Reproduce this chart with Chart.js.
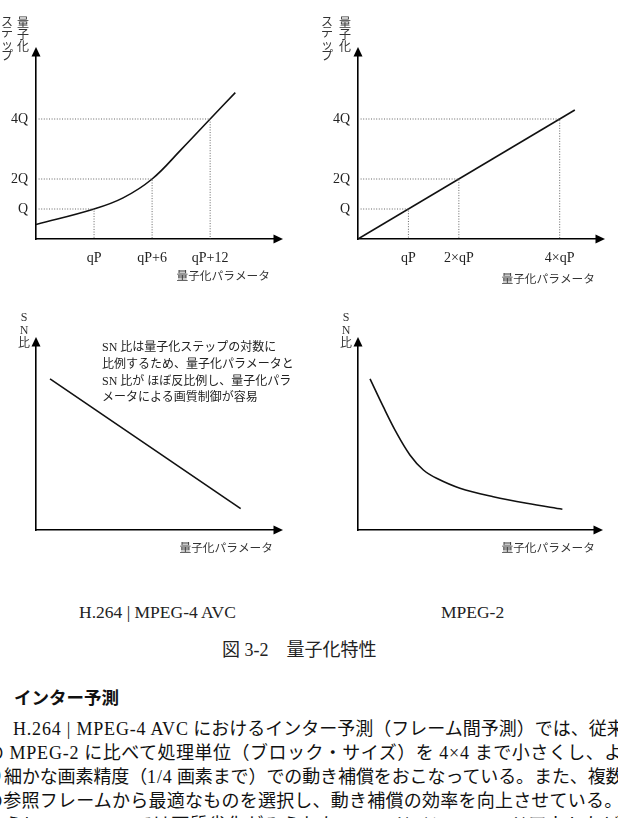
<!DOCTYPE html>
<html><head><meta charset="utf-8">
<script src="https://cdn.jsdelivr.net/npm/chart.js@4.4.1/dist/chart.umd.min.js"></script>
<style>
html,body{margin:0;padding:0;background:#fff;}
#page{position:relative;width:618px;height:818px;overflow:hidden;background:#fff;color:#111;}
.cv{position:absolute;}
.t{position:absolute;white-space:nowrap;font-family:"Liberation Serif","Noto Sans CJK JP",serif;}
.e{letter-spacing:0.8px;}
</style></head><body><div id="page">
<canvas id="c1" class="cv" width="305" height="300" style="left:0;top:0"></canvas>
<canvas id="c2" class="cv" width="308" height="300" style="left:310px;top:0"></canvas>
<canvas id="c3" class="cv" width="305" height="270" style="left:0;top:300px"></canvas>
<canvas id="c4" class="cv" width="308" height="270" style="left:310px;top:300px"></canvas>

<div class="t" style="left:102px;top:339px;font-size:12px;line-height:16.8px;color:#222;">SN 比は量子化ステップの対数に<br>比例するため、量子化パラメータと<br>SN 比が ほぼ反比例し、量子化パラ<br>メータによる画質制御が容易</div>

<div class="t" style="left:79px;top:602px;font-size:17.5px;line-height:20px;color:#222;">H.264 | MPEG-4 AVC</div>
<div class="t" style="left:441px;top:602px;font-size:17.5px;line-height:20px;color:#222;">MPEG-2</div>
<div class="t" style="left:222px;top:639px;font-size:18px;line-height:22px;color:#222;">図 3-2　量子化特性</div>
<div class="t" style="left:14px;top:685px;font-size:17.5px;line-height:24px;font-weight:bold;font-family:'Noto Sans CJK JP',sans-serif;color:#111;">インター予測</div>
<div class="t" style="left:13px;top:717px;font-size:18px;line-height:24px;letter-spacing:0px;"><span class="e">H.264 | MPEG-4 AVC</span> におけるインター予測（フレーム間予測）では、従来の</div>
<div class="t" style="left:-14px;top:741px;font-size:18px;line-height:24px;letter-spacing:0.5px;">の <span class="e">MPEG-2</span> に比べて処理単位（ブロック・サイズ）を <span class="e">4×4</span> まで小さくし、より</div>
<div class="t" style="left:-14px;top:765px;font-size:18px;line-height:24px;letter-spacing:-0.1px;">り細かな画素精度（<span class="e">1/4</span> 画素まで）での動き補償をおこなっている。また、複数の</div>
<div class="t" style="left:-15px;top:789px;font-size:18px;line-height:24px;letter-spacing:0.23px;">の参照フレームから最適なものを選択し、動き補償の効率を向上させている。</div>
<div class="t" style="left:-14px;top:813px;font-size:18px;line-height:24px;letter-spacing:0.5px;">さらに、<span class="e">MPEG-2</span> では画質劣化がみられたフェードイン/フェードアウトなど</div>
</div>
<script>
// ---- Data ----
// Chart 1: H.264 | MPEG-4 AVC, quantization step vs parameter
const h264ParamX = [0, 6, 9, 12, 15, 18, 20.6];
const h264StepY  = [0.48, 1.0, 1.37, 2.0, 2.98, 4.0, 4.88];
const h264TickValues = [6, 12, 18];
const h264TickLabels = ['qP', 'qP+6', 'qP+12'];
// Shared step ticks
const stepTickValues = [1, 2, 4];
const stepTickLabels = ['Q', '2Q', '4Q'];
// Chart 2: MPEG-2, quantization step vs parameter
const mpeg2ParamX = [0, 4.3];
const mpeg2StepY  = [0, 4.3];
const mpeg2TickValues = [1, 2, 4];
const mpeg2TickLabels = ['qP', '2×qP', '4×qP'];
// Chart 3: H.264 SN ratio vs parameter
const h264SnX = [0.59, 8.6];
const h264SnY = [8.21, 1.16];
// Chart 4: MPEG-2 SN ratio vs parameter
const mpeg2SnX = [0.51, 1.07, 1.64, 2.2, 2.77, 3.33, 4.32, 5.73, 7.15, 8.66];
const mpeg2SnY = [8.21, 6.7, 5.26, 4.08, 3.26, 2.81, 2.27, 1.81, 1.45, 1.13];

const xTitleText = '量子化パラメータ';
const stepTitleCols = ['量子化', 'ステップ'];
const snTitle = 'SN比';

// ---- Helpers ----
const zip = (xs, ys) => xs.map((x, i) => ({x, y: ys[i]}));

const decor = {
  id: 'decor',
  afterDraw(chart, args, o) {
    const {ctx, chartArea: a} = chart;
    ctx.save();
    ctx.fillStyle = '#000';
    ctx.beginPath();
    ctx.moveTo(a.right + 9, a.bottom);
    ctx.lineTo(a.right - 0.5, a.bottom - 4.5);
    ctx.lineTo(a.right - 0.5, a.bottom + 4.5);
    ctx.closePath(); ctx.fill();
    ctx.beginPath();
    ctx.moveTo(a.left, a.top - 9);
    ctx.lineTo(a.left - 4.5, a.top + 0.5);
    ctx.lineTo(a.left + 4.5, a.top + 0.5);
    ctx.closePath(); ctx.fill();
    ctx.fillStyle = '#333';
    ctx.font = "11.7px 'Noto Sans CJK JP'";
    ctx.textAlign = 'right'; ctx.textBaseline = 'middle';
    ctx.fillText(o.xTitle, a.right + o.xDx, a.bottom + o.xDy);
    ctx.textAlign = 'center';
    (o.yCols || []).forEach(c => {
      ctx.font = c.font;
      [...c.text].forEach((ch, i) => ctx.fillText(ch, a.left + c.dx, a.top + c.dy + i * c.step));
    });
    ctx.restore();
  }
};

function makeChart(id, o) {
  const datasets = [];
  (o.guides || []).forEach(g => datasets.push({
    data: [{x: 0, y: g.y}, {x: g.x, y: g.y}, {x: g.x, y: 0}],
    borderColor: '#666', borderWidth: 1, borderDash: [1, 1.6], pointRadius: 0, tension: 0
  }));
  datasets.push({
    data: o.data, borderColor: '#111', borderWidth: 1.6, pointRadius: 0,
    tension: o.tension || 0
  });
  const tickFont = {family: 'Liberation Serif', size: 14};
  return new Chart(document.getElementById(id), {
    type: 'line',
    data: {datasets},
    plugins: [decor],
    options: {
      responsive: false, animation: false, devicePixelRatio: 1,
      layout: {padding: {left: 0, bottom: 0, top: o.padTop, right: o.padRight}},
      plugins: {legend: {display: false}, tooltip: {enabled: false}, decor: o.decor},
      scales: {
        x: {
          type: 'linear', min: 0, max: o.xMax,
          grid: {display: false, drawTicks: false},
          border: {display: true, color: '#000', width: 1.6},
          ticks: {display: !!o.xTicks, font: tickFont, color: '#222', padding: 11, maxRotation: 0, autoSkip: false,
                  callback: (v, i) => o.xTicks ? o.xTicks.labels[i] : ''},
          afterBuildTicks: s => { if (o.xTicks) s.ticks = o.xTicks.values.map(v => ({value: v})); },
          afterFit: s => { s.height = o.xAxisH; }
        },
        y: {
          type: 'linear', min: 0, max: o.yMax,
          grid: {display: false, drawTicks: false},
          border: {display: true, color: '#000', width: 1.6},
          ticks: {display: !!o.yTicks, font: tickFont, color: '#222', padding: 8, autoSkip: false,
                  callback: (v, i) => o.yTicks ? o.yTicks.labels[i] : ''},
          afterBuildTicks: s => { if (o.yTicks) s.ticks = o.yTicks.values.map(v => ({value: v})); },
          afterFit: s => { s.width = o.yAxisW; }
        }
      }
    }
  });
}

const stepCols = (dxA, dxB) => [
  {text: stepTitleCols[0], font: "12px 'Noto Sans CJK JP'", dx: dxA, dy: -34, step: 12},
  {text: stepTitleCols[1], font: "12px 'Noto Sans CJK JP'", dx: dxB, dy: -35, step: 11.5}
];
const snCols = [{text: snTitle, font: "12px 'Liberation Serif','Noto Sans CJK JP'", dx: -12, dy: -28, step: 13}];

makeChart('c1', {
  data: zip(h264ParamX, h264StepY), tension: 0.4,
  guides: h264TickValues.map((x, i) => ({x, y: stepTickValues[i]})),
  xTicks: {values: h264TickValues, labels: h264TickLabels},
  yTicks: {values: stepTickValues, labels: stepTickLabels},
  xMax: 24.6, yMax: 6.1, padTop: 56, padRight: 31, xAxisH: 61, yAxisW: 36,
  decor: {xTitle: xTitleText, xDx: -4, xDy: 37, yCols: stepCols(-13, -29)}
});
makeChart('c2', {
  data: zip(mpeg2ParamX, mpeg2StepY),
  guides: mpeg2TickValues.map((x, i) => ({x, y: stepTickValues[i]})),
  xTicks: {values: mpeg2TickValues, labels: mpeg2TickLabels},
  yTicks: {values: stepTickValues, labels: stepTickLabels},
  xMax: 4.72, yMax: 6.1, padTop: 56, padRight: 22, xAxisH: 61, yAxisW: 48,
  decor: {xTitle: xTitleText, xDx: -1, xDy: 40, yCols: stepCols(-13, -31)}
});
makeChart('c3', {
  data: zip(h264SnX, h264SnY),
  xMax: 10, yMax: 10, padTop: 46, padRight: 31, xAxisH: 40, yAxisW: 36,
  decor: {xTitle: xTitleText, xDx: -1, xDy: 18, yCols: snCols}
});
makeChart('c4', {
  data: zip(mpeg2SnX, mpeg2SnY), tension: 0.35,
  xMax: 10, yMax: 10, padTop: 46, padRight: 24, xAxisH: 40, yAxisW: 48,
  decor: {xTitle: xTitleText, xDx: 1, xDy: 18, yCols: snCols}
});
</script>
</body></html>
